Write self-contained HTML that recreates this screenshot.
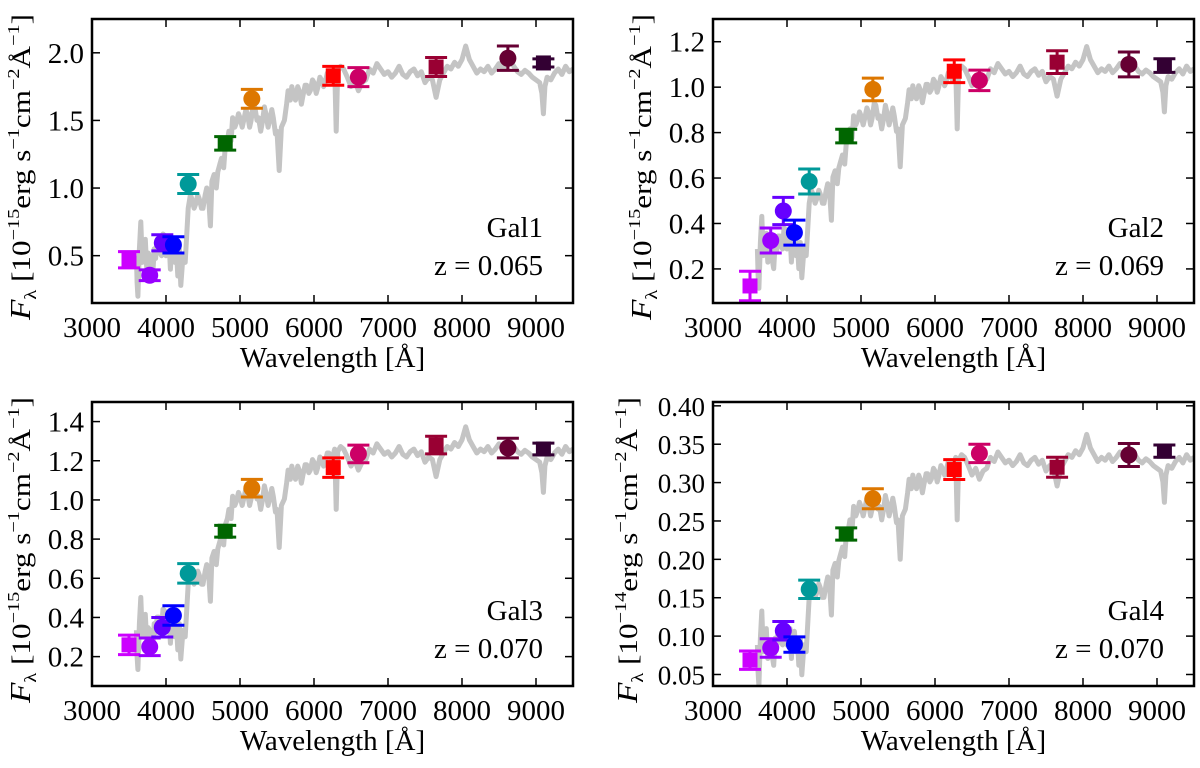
<!DOCTYPE html>
<html><head><meta charset="utf-8"><style>
html,body{margin:0;padding:0;background:#fff;}
svg text{font-family:"Liberation Serif","DejaVu Serif",serif;fill:#000;}
</style></head><body>
<svg id="chart" width="1200" height="763" viewBox="0 0 1200 763" xmlns="http://www.w3.org/2000/svg" font-family="Liberation Serif, serif">
</svg>
<script>
// ---- data ----
const filterWave = [3500,3780,3950,4100,4300,4800,5160,6260,6600,7650,8620,9100];
const filterColor = ['#cc00ff','#9900ff','#6600ff','#0000ff','#009999','#006600','#dd7700','#ff0000','#cc0066','#990033','#660033','#330033'];
const filterShape = ['s','c','c','c','c','s','c','s','c','s','c','s'];
const gal1Flux = [0.47,0.355,0.595,0.58,1.03,1.33,1.66,1.83,1.82,1.895,1.96,1.925];
const gal1Err  = [0.06,0.04,0.06,0.06,0.07,0.05,0.07,0.07,0.07,0.07,0.09,0.03];
const gal2Flux = [0.125,0.325,0.455,0.36,0.585,0.785,0.99,1.07,1.03,1.11,1.10,1.095];
const gal2Err  = [0.065,0.055,0.06,0.055,0.055,0.03,0.05,0.05,0.045,0.05,0.055,0.03];
const gal3Flux = [0.26,0.25,0.35,0.41,0.625,0.84,1.06,1.165,1.235,1.28,1.265,1.26];
const gal3Err  = [0.05,0.045,0.05,0.05,0.05,0.03,0.045,0.05,0.045,0.045,0.05,0.03];
const gal4Flux = [0.0686,0.0845,0.107,0.089,0.161,0.233,0.279,0.317,0.338,0.320,0.336,0.341];
const gal4Err  = [0.012,0.012,0.012,0.01,0.012,0.008,0.013,0.013,0.012,0.013,0.015,0.008];
const specWave = [3600,3610,3620,3640,3660,3680,3700,3720,3740,3760,3780,3800,3820,3840,3860,3880,3900,3920,3940,3960,3980,4000,4020,4040,4060,4080,4100,4120,4140,4160,4180,4200,4230,4260,4300,4330,4350,4380,4400,4430,4450,4480,4500,4530,4550,4580,4600,4620,4650,4680,4700,4730,4750,4780,4800,4830,4850,4880,4900,4930,4950,4980,5000,5030,5050,5080,5100,5130,5150,5180,5200,5230,5250,5280,5300,5330,5350,5380,5400,5430,5450,5480,5500,5530,5560,5600,5630,5650,5680,5700,5730,5750,5780,5800,5830,5850,5880,5900,5930,5950,5980,6000,6030,6050,6080,6100,6130,6150,6180,6200,6230,6250,6280,6300,6320,6360,6400,6450,6500,6550,6600,6650,6700,6750,6800,6850,6900,6950,7000,7050,7100,7150,7200,7250,7300,7350,7400,7450,7500,7550,7600,7650,7700,7750,7800,7850,7900,7950,8000,8050,8100,8150,8200,8250,8300,8350,8400,8450,8500,8550,8600,8650,8700,8750,8800,8850,8900,8950,9000,9050,9080,9100,9120,9150,9200,9250,9300,9350,9400,9450,9500];
const specFlux = [0.5,0.3,0.2,0.55,0.75,0.45,0.55,0.62,0.4,0.52,0.5,0.42,0.35,0.55,0.48,0.6,0.6,0.52,0.5,0.66,0.65,0.5,0.55,0.62,0.4,0.58,0.6,0.45,0.55,0.35,0.55,0.28,0.5,0.45,0.85,0.95,0.92,0.85,0.88,0.95,0.92,0.85,0.85,0.95,1.0,0.9,0.72,1.05,1.1,1.0,1.12,1.18,1.22,1.15,1.3,1.35,1.42,1.35,1.52,1.45,1.48,1.55,1.52,1.45,1.5,1.58,1.55,1.45,1.5,1.62,1.6,1.5,1.52,1.42,1.48,1.6,1.55,1.45,1.5,1.58,1.52,1.4,1.42,1.13,1.45,1.5,1.62,1.72,1.65,1.75,1.68,1.65,1.75,1.72,1.62,1.68,1.76,1.76,1.7,1.72,1.8,1.78,1.7,1.74,1.82,1.8,1.75,1.78,1.85,1.85,1.8,1.82,1.88,1.42,1.86,1.9,1.88,1.82,1.75,1.8,1.72,1.78,1.8,1.88,1.85,1.92,1.88,1.84,1.86,1.82,1.85,1.9,1.84,1.82,1.86,1.88,1.83,1.86,1.78,1.82,1.8,1.67,1.8,1.85,1.9,1.88,1.93,1.9,1.95,2.05,1.95,1.9,1.85,1.88,1.86,1.9,1.85,1.88,1.92,1.88,1.9,1.94,1.9,1.86,1.84,1.87,1.85,1.82,1.8,1.78,1.7,1.55,1.75,1.82,1.8,1.85,1.88,1.84,1.9,1.86,1.88];
const specScale = [1.0,0.575,0.67,0.177];
const galNames = ['Gal1','Gal2','Gal3','Gal4'];
const galZ = ['z = 0.065','z = 0.069','z = 0.070','z = 0.070'];
const yExp = ['15','15','15','14'];
const yTicks = [[0.5,1.0,1.5,2.0],[0.2,0.4,0.6,0.8,1.0,1.2],[0.2,0.4,0.6,0.8,1.0,1.2,1.4],[0.05,0.10,0.15,0.20,0.25,0.30,0.35,0.40]];
const yTickLabels = [['0.5','1.0','1.5','2.0'],['0.2','0.4','0.6','0.8','1.0','1.2'],['0.2','0.4','0.6','0.8','1.0','1.2','1.4'],['0.05','0.10','0.15','0.20','0.25','0.30','0.35','0.40']];
const yRange = [[0.15,2.25],[0.05,1.3],[0.05,1.5],[0.035,0.405]];
const xTicks = [3000,4000,5000,6000,7000,8000,9000];
const xTickLabels = ['3000','4000','5000','6000','7000','8000','9000'];
const allFlux = [gal1Flux,gal2Flux,gal3Flux,gal4Flux];
const allErr = [gal1Err,gal2Err,gal3Err,gal4Err];

const svg = document.getElementById('chart');
const NS = 'http://www.w3.org/2000/svg';
function mk(tag, attrs, parent){
  const e = document.createElementNS(NS, tag);
  for (const k in attrs) e.setAttribute(k, attrs[k]);
  (parent||svg).appendChild(e);
  return e;
}
const SERIF = 'Liberation Serif, DejaVu Serif, serif';
const panels = [[92,19],[713,19],[92,402],[713,402]];
const W = 481, H = 284;
const yLabelX = [30, 651, 30, 637];
const yTickFont = [29, 29, 29, 27];

panels.forEach((p, pi) => {
  const [L, T] = p;
  const g = mk('g', {'font-family': SERIF});
  
  
  const xs = w => L + (w - 3000) / 6500 * W;
  const ys = v => T + H - (v - yRange[pi][0]) / (yRange[pi][1] - yRange[pi][0]) * H;
  const clip = mk('clipPath', {id: 'clip' + pi}, g);
  mk('rect', {x: L, y: T, width: W, height: H}, clip);
  let d = '';
  specWave.forEach((w, i) => { d += (i ? 'L' : 'M') + xs(w).toFixed(1) + ',' + ys(specFlux[i] * specScale[pi]).toFixed(1); });
  const sp = mk('path', {d: d, fill: 'none', stroke: '#c4c4c4', 'stroke-width': 5, 'stroke-linejoin': 'round', 'clip-path': 'url(#clip' + pi + ')'}, g);
  
  
  filterWave.forEach((w, i) => {
    const cx = xs(w), cy = ys(allFlux[pi][i]);
    const e = allErr[pi][i];
    const y1 = ys(allFlux[pi][i] + e), y2 = ys(allFlux[pi][i] - e);
    const pg = mk('g', {stroke: filterColor[i], fill: filterColor[i]}, g);
    
    
    mk('line', {x1: cx, x2: cx, y1: y1, y2: y2, 'stroke-width': 3}, pg);
    mk('line', {x1: cx - 11, x2: cx + 11, y1: y1, y2: y1, 'stroke-width': 3}, pg);
    mk('line', {x1: cx - 11, x2: cx + 11, y1: y2, y2: y2, 'stroke-width': 3}, pg);
    if (filterShape[i] === 's') mk('rect', {x: cx - 7.5, y: cy - 7.5, width: 15, height: 15, stroke: 'none'}, pg);
    else mk('circle', {cx: cx, cy: cy, r: 8.5, stroke: 'none'}, pg);
  });
  const fr = mk('rect', {x: L, y: T, width: W, height: H, fill: 'none', stroke: '#000', 'stroke-width': 2.5}, g);
  
  
  xTicks.forEach((t, i) => {
    const x = xs(t);
    mk('line', {x1: x, x2: x, y1: T + H, y2: T + H - 8, stroke: '#000', 'stroke-width': 1.5}, g);
    mk('line', {x1: x, x2: x, y1: T, y2: T + 8, stroke: '#000', 'stroke-width': 1.5}, g);
    const tx = mk('text', {x: x, y: T + H + 34, 'text-anchor': 'middle', 'font-size': 29, 'font-family': SERIF}, g);
    tx.textContent = xTickLabels[i];
    
    
  });
  yTicks[pi].forEach((t, i) => {
    const y = ys(t);
    mk('line', {x1: L, x2: L + 8, y1: y, y2: y, stroke: '#000', 'stroke-width': 1.5}, g);
    mk('line', {x1: L + W, x2: L + W - 8, y1: y, y2: y, stroke: '#000', 'stroke-width': 1.5}, g);
    const ty = mk('text', {x: L - 8, y: y + 10, 'text-anchor': 'end', 'font-size': yTickFont[pi], 'font-family': SERIF}, g);
    ty.textContent = yTickLabels[pi][i];
    
    
  });
  const xl = mk('text', {x: L + W / 2, y: T + H + 64, 'text-anchor': 'middle', 'font-size': 29, 'font-family': SERIF}, g);
  xl.textContent = 'Wavelength [Å]';
  
  
  const yl = mk('text', {x: 0, y: 0, 'font-size': 26, 'font-family': SERIF, textLength: 306, lengthAdjust: 'spacingAndGlyphs', transform: 'translate(' + yLabelX[pi] + ',' + (T + H + 17) + ') rotate(-90)'}, g);
  
  
  yl.innerHTML = '<tspan font-style="italic" font-size="28">F</tspan><tspan font-size="17" dy="6">λ</tspan><tspan dy="-6"> [10</tspan><tspan font-size="17" dy="-11">−' + yExp[pi] + '</tspan><tspan dy="11">erg s</tspan><tspan font-size="17" dy="-11">−1</tspan><tspan dy="11">cm</tspan><tspan font-size="17" dy="-11">−2</tspan><tspan dy="11">Å</tspan><tspan font-size="17" dy="-11">−1</tspan><tspan dy="11">]</tspan>';
  const gn = mk('text', {x: L + W - 30, y: T + H - 66, 'text-anchor': 'end', 'font-size': 29, 'font-family': SERIF}, g);
  gn.textContent = galNames[pi];
  
  
  const gz = mk('text', {x: L + W - 30, y: T + H - 28, 'text-anchor': 'end', 'font-size': 29, 'font-family': SERIF}, g);
  gz.textContent = galZ[pi];
  
  
});
</script>
</body></html>
